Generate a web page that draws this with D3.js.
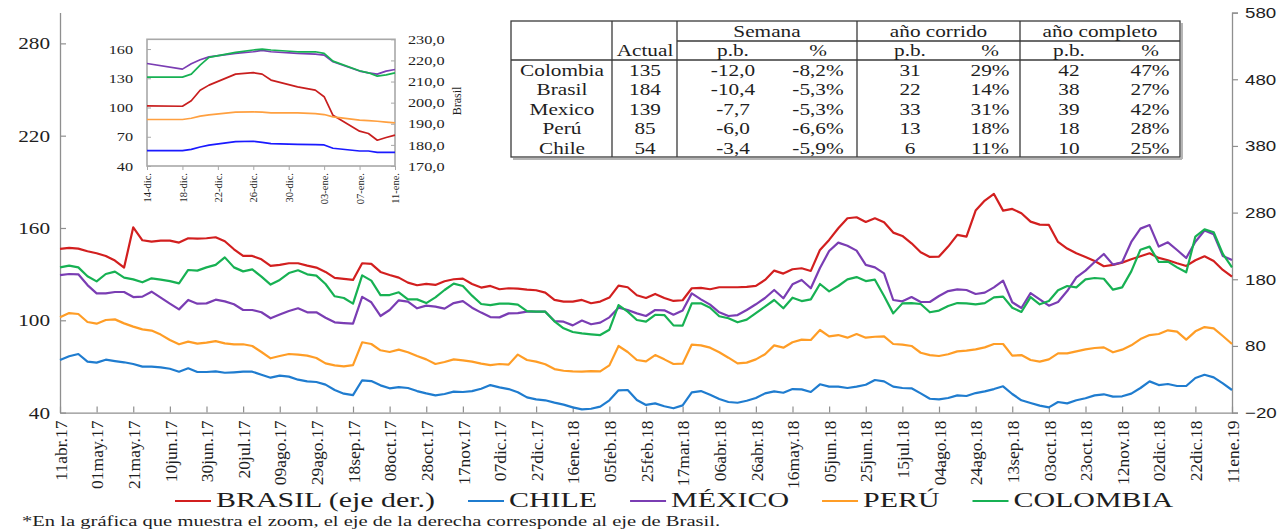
<!DOCTYPE html>
<html>
<head>
<meta charset="utf-8">
<script src="https://cdn.jsdelivr.net/npm/d3@7"></script>
<style>
  body { margin: 0; background: #fff; }
  svg text { font-family: "Liberation Serif", "Times New Roman", serif; fill: #1e1e1e; }
  .sans text { font-family: "Liberation Sans", Arial, sans-serif; }
</style>
</head>
<body>
<script>
// ---- main chart data: one reading every 5 days starting 11abr.17 ----
const startDate = "2017-04-11";
const stepDays = 5;

const brasil = [225.5,227,226,222,219,215,208,197.5,258,238.5,236.5,238,238,235,241.5,241,241.5,243,237,225,
  215,215,210,200,201.5,204,204,200.5,197.5,191,182,180.5,179,
  204,203,191,186.5,182.5,175,171,173,171.5,177,180,181,173,167.5,170,165,166.5,166,164.5,163.5,
  160,149,146.5,146.5,149,144,146.5,152.5,170.5,168,156,152,
  158,152,147.5,148.5,166.5,167,165,168,168,168,168.5,170,179,193,188.5,195,196.5,192.5,224,239,
  256.5,271.5,273,266,271.5,265.5,250,245,234,220.5,213.5,214,
  229,246.5,244,283,298,308,283,285.5,279,266.5,262,261.5,236,226,219,213.5,207.5,199.5,201.5,205,
  210,214.5,219,212,208.5,204,200,208.5,214.5,207.5,194,184];
const chile = [74.2,76.6,78.1,73.1,72.5,74.4,73.5,72.7,71.6,69.9,69.9,69.4,68.5,66.6,68.8,66.4,66.4,66.8,65.9,66.2,
  66.6,66.6,64.6,62.7,64.0,63.4,61.4,60.3,59.9,58.2,54.7,52.3,51.4,
  61.0,60.5,57.7,55.8,56.6,56.0,54.0,52.5,51.2,52.1,53.6,53.4,54.0,55.5,57.9,56.4,55.3,53.2,49.9,48.6,
  48.0,46.5,45.2,43.4,42.1,42.5,43.9,48.0,54.5,54.7,48.2,45.0,
  46.0,44.1,42.8,44.7,53.2,54.0,51.6,48.8,46.9,46.4,47.7,49.5,52.5,53.8,52.9,55.3,55.1,53.4,58.4,56.9,
  56.9,56.0,56.9,58.1,61.2,60.3,56.9,56.0,55.8,52.5,49.0,48.6,
  49.5,51.2,50.8,52.7,53.8,55.3,57.1,52.1,48.0,46.2,44.5,43.4,46.9,46.0,48.0,49.3,51.2,51.9,50.4,50.6,
  52.3,56.0,60.3,57.9,58.6,57.3,57.3,62.5,64.6,62.9,59.0,54.7];
const mexico = [129.4,130.1,129.9,122.9,117.5,117.5,118.4,118.4,115.1,115.4,118.6,114.7,110.8,107.1,113.2,110.8,111.0,113.4,112.3,110.4,
  106.7,106.7,105.2,101.3,103.7,106.0,107.8,105.2,105.2,101.7,98.7,98.2,97.8,
  115.2,111.7,102.8,106.7,113.0,112.1,107.8,109.5,108.9,107.6,111.2,112.5,108.2,105.0,102.1,101.9,104.5,104.7,105.6,105.6,
  105.6,99.5,99.1,96.7,99.8,97.4,98.5,101.9,108.2,106.7,104.5,102.8,
  106.7,106.5,103.6,106.3,117.5,113.6,110.2,105.2,102.8,103.4,106.7,110.4,114.5,119.7,114.3,123.4,126.2,120.8,134.0,145.0,
  150.5,148.5,145.3,136.0,134.4,130.5,113.2,112.3,115.1,111.9,111.9,115.8,
  119.0,120.1,119.7,117.1,118.0,121.4,125.8,111.7,108.0,117.7,113.6,109.5,111.9,119.0,127.9,132.3,137.9,143.1,136.2,137.7,
  150.9,159.6,161.9,147.9,150.7,145.7,140.5,151.1,158.3,155.9,141.8,139.2];
const peru = [101.9,104.7,104.1,98.9,97.8,100.2,100.6,98.0,95.9,94.1,93.3,90.7,87.2,84.4,86.1,84.8,85.5,86.5,85.0,84.4,
  84.4,83.3,79.4,75.3,76.8,78.1,77.7,77.0,75.5,72.0,70.7,70.1,70.9,
  85.7,84.6,80.5,79.4,80.9,79.2,76.8,74.6,71.6,72.9,74.6,74.0,73.1,71.8,70.9,71.6,71.2,77.7,74.2,73.1,
  71.4,68.3,67.2,66.8,66.6,67.0,66.8,70.7,83.3,79.4,74.2,73.3,
  77.4,74.6,71.6,71.8,84.2,83.7,82.2,79.2,75.7,72.0,72.5,74.6,77.9,83.7,82.2,85.7,87.4,87.2,93.7,89.6,
  90.4,88.7,91.1,88.7,89.3,89.6,84.6,84.2,83.3,78.9,77.4,76.8,
  77.9,79.8,80.3,81.1,82.4,84.6,84.6,77.0,77.4,74.2,73.1,74.6,78.5,78.5,79.8,81.1,82.0,82.4,79.2,80.9,
  83.7,87.8,90.4,91.1,93.5,92.6,87.4,92.8,95.6,94.8,89.8,84.6];
const colombia = [134.4,135.5,134.4,128.6,125.3,130.1,131.6,127.7,126.6,124.7,127.3,126.4,125.5,124.0,132.7,132.3,134.4,136.0,140.9,134.4,
  131.8,133.1,128.4,123.2,126.2,130.7,132.5,129.9,129.0,123.6,115.6,114.5,110.8,
  129.2,125.8,116.4,116.4,118.2,113.6,113.6,111.2,114.9,119.7,123.8,122.3,116.0,110.6,109.9,110.8,110.8,110.2,106.0,105.6,
  105.6,99.3,94.8,92.4,91.5,90.9,90.4,93.9,109.9,105.6,100.2,99.1,
  103.6,103.4,96.7,96.5,111.0,111.0,108.2,102.6,101.3,98.7,100.4,104.7,108.9,113.2,107.8,114.7,112.5,113.6,123.6,118.8,
  122.3,126.6,128.1,125.5,126.4,115.8,104.5,111.0,111.2,110.6,105.2,106.3,
  109.3,111.2,111.0,110.4,111.2,114.9,115.4,108.2,105.4,115.1,110.4,112.5,119.5,122.3,121.4,126.6,127.5,127.0,119.9,121.4,
  131.8,145.9,147.9,137.9,138.1,134.4,131.2,154.4,159.1,157.2,143.1,134.4];

const xTickLabels = ["11abr.17","01may.17","21may.17","10jun.17","30jun.17","20jul.17","09ago.17","29ago.17",
  "18sep.17","08oct.17","28oct.17","17nov.17","07dic.17","27dic.17","16ene.18","05feb.18","25feb.18","17mar.18",
  "06abr.18","26abr.18","16may.18","05jun.18","25jun.18","15jul.18","04ago.18","24ago.18","13sep.18","03oct.18",
  "23oct.18","12nov.18","02dic.18","22dic.18","11ene.19"];
const leftTicks = [40, 100, 160, 220, 280];
const rightTicks = [-20, 80, 180, 280, 380, 480, 580];
const legendNames = ["BRASIL (eje der.)", "CHILE", "MÉXICO", "PERÚ", "COLOMBIA"];

// ---- zoom inset (last weeks) ----
const insetDates = ["2018-12-14","2018-12-18","2018-12-19","2018-12-20","2018-12-21","2018-12-24","2018-12-26",
  "2018-12-27","2018-12-28","2018-12-31","2019-01-02","2019-01-03","2019-01-04","2019-01-07","2019-01-08",
  "2019-01-09","2019-01-10","2019-01-11"];
const insetBrasil = [198.5,198.3,200.9,205.9,208.3,213.5,214.2,213.5,210.7,207.5,205.9,202.8,194.0,186.5,185.4,182.2,183.5,184.6];
const insetChile = [55.8,55.8,57.1,59.5,61.5,65.0,65.4,64.3,63.0,62.2,62.0,61.6,58.2,55.4,55.4,54.0,54.0,54.0];
const insetMexico = [145.2,139.4,145.0,149.0,152.0,155.5,157.2,158.6,157.2,155.5,154.8,153.8,147.0,137.4,135.6,134.3,137.4,139.0];
const insetPeru = [87.7,87.7,89.0,91.1,92.5,95.2,95.5,95.2,94.5,94.5,93.8,92.8,90.4,87.0,86.5,85.9,85.0,84.2];
const insetColombia = [131.2,131.2,134.3,143.5,151.4,156.6,159.0,160.0,159.0,157.2,157.2,155.5,147.6,137.7,135.6,132.2,133.5,135.6];
const insetTickDates = ["2018-12-14","2018-12-18","2018-12-22","2018-12-26","2018-12-30","2019-01-03","2019-01-07","2019-01-11"];
const insetTickLabels = ["14-dic.","18-dic.","22-dic.","26-dic.","30-dic.","03-ene.","07-ene.","11-ene."];
const insetLeftTicks = [40, 70, 100, 130, 160];
const insetRightTicks = [170, 180, 190, 200, 210, 220, 230];

// ---- table ----
const tblPais = ["Colombia", "Brasil", "Mexico", "Perú", "Chile"];
const tblActual = ["135", "184", "139", "85", "54"];
const tblSemPb = ["-12,0", "-10,4", "-7,7", "-6,0", "-3,4"];
const tblSemPct = ["-8,2%", "-5,3%", "-5,3%", "-6,6%", "-5,9%"];
const tblCorPb = ["31", "22", "33", "13", "6"];
const tblCorPct = ["29%", "14%", "31%", "18%", "11%"];
const tblComPb = ["42", "38", "39", "18", "10"];
const tblComPct = ["47%", "27%", "42%", "28%", "25%"];

const footnote = "*En la gráfica que muestra el zoom, el eje de la derecha corresponde al eje de Brasil.";

// --------------------------------------------------------------
const W = 1287, H = 529;
const SX = 1.25; // text in the picture is drawn wider than it is tall
const MES = ["ene","feb","mar","abr","may","jun","jul","ago","sep","oct","nov","dic"];
const parseDay = d3.timeParse("%Y-%m-%d");
const parseTick = s => new Date(2000 + +s.slice(-2), MES.indexOf(s.slice(2, 5)), +s.slice(0, 2));

const svg = d3.select("body").append("svg").attr("width", W).attr("height", H);
svg.append("rect").attr("width", W).attr("height", H).attr("fill", "#fff");

function hText(parent, x, y, str, size, anchor, sx) {
  const k = sx || SX;
  return parent.append("text")
    .attr("x", x / k).attr("y", y)
    .attr("transform", `scale(${k},1)`)
    .attr("text-anchor", anchor || "start")
    .style("font-size", size + "px")
    .text(str);
}
function stretchTicks(g) {
  g.selectAll(".tick text").each(function () {
    const t = d3.select(this);
    t.attr("x", (+t.attr("x") || 0) / SX).attr("transform", `scale(${SX},1)`);
  });
}

const axisGray = "#8f8f8f";
const t0 = parseDay(startDate);
const dates = brasil.map((_, i) => d3.timeDay.offset(t0, i * stepDays));
const xTickDates = xTickLabels.map(parseTick);

const x = d3.scaleTime().domain([xTickDates[0], xTickDates[xTickDates.length - 1]]).range([60, 1232]);
const yL = d3.scaleLinear().domain([40, 300]).range([412.6, 12.6]);
const yR = d3.scaleLinear().domain([-20, 580]).range([412.6, 12.6]);

const series = [
  { vals: brasil, color: "#d21f1f", y: yR },
  { vals: chile, color: "#1f7ccf", y: yL },
  { vals: mexico, color: "#7a3db3", y: yL },
  { vals: peru, color: "#ff9d26", y: yL },
  { vals: colombia, color: "#17b153", y: yL }
];

// axes
const gxAxis = svg.append("g").attr("transform", "translate(0,412.6)")
  .call(d3.axisBottom(x).tickValues(xTickDates).tickFormat((d, i) => xTickLabels[i])
    .tickSizeInner(-6).tickSizeOuter(0));
gxAxis.selectAll(".tick text")
  .attr("transform", "rotate(-90)").attr("text-anchor", "end")
  .attr("x", -8).attr("y", 0).attr("dy", "0.35em")
  .style("font-size", "17.5px");

const gyL = svg.append("g").attr("transform", "translate(60,0)")
  .call(d3.axisLeft(yL).tickValues(leftTicks).tickSizeInner(-6).tickSizeOuter(0).tickPadding(10));
gyL.selectAll(".tick text").style("font-size", "17px");
stretchTicks(gyL);

const gyR = svg.append("g").attr("class", "sans").attr("transform", "translate(1232,0)")
  .call(d3.axisRight(yR).tickValues(rightTicks).tickSize(6).tickPadding(7));
gyR.selectAll(".tick text").style("font-size", "15px");
stretchTicks(gyR);

[gxAxis, gyL, gyR].forEach(g => {
  g.select(".domain").attr("stroke", axisGray).attr("stroke-width", 1.3);
  g.selectAll(".tick line").attr("stroke", axisGray).attr("stroke-width", 1.2);
  g.selectAll(".tick text").attr("fill", "#1e1e1e");
});

// lines
series.forEach(s => {
  const line = d3.line().x((d, i) => x(dates[i])).y(d => s.y(d));
  svg.append("path").datum(s.vals)
    .attr("d", line).attr("fill", "none")
    .attr("stroke", s.color).attr("stroke-width", 2.2)
    .attr("stroke-linejoin", "round");
});

// ---- inset ----
const inset = svg.append("g");
const ix = d3.scaleTime().domain([parseDay("2018-12-14"), parseDay("2019-01-11")]).range([147, 395]);
const iyL = d3.scaleLinear().domain([40, 170]).range([166, 39.3]);
const iyR = d3.scaleLinear().domain([170, 230]).range([166, 39.3]);
const iDates = insetDates.map(parseDay);

inset.append("rect").attr("x", 147).attr("y", 39.3).attr("width", 248).attr("height", 126.7)
  .attr("fill", "#fff").attr("stroke", "#a8a8a8").attr("stroke-width", 1.6);

const insetSeries = [
  { vals: insetBrasil, color: "#c81e1e", y: iyR },
  { vals: insetChile, color: "#1a1aff", y: iyL },
  { vals: insetMexico, color: "#7a3db3", y: iyL },
  { vals: insetPeru, color: "#ffa040", y: iyL },
  { vals: insetColombia, color: "#17b153", y: iyL }
];
insetSeries.forEach(s => {
  const line = d3.line().x((d, i) => ix(iDates[i])).y(d => s.y(d));
  inset.append("path").datum(s.vals).attr("d", line).attr("fill", "none")
    .attr("stroke", s.color).attr("stroke-width", 1.7).attr("stroke-linejoin", "round");
});

const igL = inset.append("g").attr("transform", "translate(147,0)")
  .call(d3.axisLeft(iyL).tickValues(insetLeftTicks).tickSizeInner(-4).tickSizeOuter(0).tickPadding(14));
igL.selectAll(".tick text").style("font-size", "13px");
stretchTicks(igL);
const igR = inset.append("g").attr("transform", "translate(395,0)")
  .call(d3.axisRight(iyR).tickValues(insetRightTicks).tickFormat(d => d.toFixed(1).replace(".", ","))
    .tickSizeInner(-4).tickSizeOuter(0).tickPadding(13));
igR.selectAll(".tick text").style("font-size", "13px");
stretchTicks(igR);
const igX = inset.append("g").attr("transform", "translate(0,166)")
  .call(d3.axisBottom(ix).tickValues(insetTickDates.map(parseDay)).tickFormat((d, i) => insetTickLabels[i])
    .tickSizeInner(4).tickSizeOuter(0));
igX.selectAll(".tick text")
  .attr("transform", "rotate(-90)").attr("text-anchor", "end")
  .attr("x", -7).attr("y", 0).attr("dy", "0.35em").style("font-size", "10.5px");
[igL, igR, igX].forEach(g => {
  g.select(".domain").remove();
  g.selectAll(".tick line").attr("stroke", "#a8a8a8");
  g.selectAll(".tick text").attr("fill", "#333");
});
inset.append("text").attr("transform", "translate(461,101) rotate(-90)")
  .attr("text-anchor", "middle").style("font-size", "12px").attr("fill", "#333").text("Brasil");

// ---- table ----
const tbl = svg.append("g");
const tl = 511, tr = 1180, tt = 21, tb = 157;
const vCols = [612, 677, 857, 1020];
const cellX = [562, 645, 733, 818, 910, 990, 1069, 1150];
const rowY = i => 70 + i * 19.5;

tbl.append("line").attr("x1", tr + 2).attr("x2", tr + 2).attr("y1", tt + 2).attr("y2", tb + 2)
  .attr("stroke", "#b5b5b5").attr("stroke-width", 2);
tbl.append("line").attr("x1", tl + 2).attr("x2", tr + 2).attr("y1", tb + 2).attr("y2", tb + 2)
  .attr("stroke", "#b5b5b5").attr("stroke-width", 2);
tbl.append("rect").attr("x", tl).attr("y", tt).attr("width", tr - tl).attr("height", tb - tt)
  .attr("fill", "#fff").attr("stroke", "#3a3a3a").attr("stroke-width", 1.3);
vCols.forEach(cx => tbl.append("line").attr("x1", cx).attr("x2", cx).attr("y1", tt).attr("y2", tb)
  .attr("stroke", "#3a3a3a").attr("stroke-width", 1.3));
tbl.append("line").attr("x1", 677).attr("x2", tr).attr("y1", 41).attr("y2", 41)
  .attr("stroke", "#3a3a3a").attr("stroke-width", 1.3);
tbl.append("line").attr("x1", tl).attr("x2", tr).attr("y1", 60).attr("y2", 60)
  .attr("stroke", "#3a3a3a").attr("stroke-width", 1.3);

const fs = 17;
hText(tbl, 767, 37, "Semana", fs, "middle");
hText(tbl, 938.5, 37, "año corrido", fs, "middle");
hText(tbl, 1100, 37, "año completo", fs, "middle");
hText(tbl, cellX[1], 56, "Actual", fs, "middle");
[2, 4, 6].forEach(c => hText(tbl, cellX[c], 56, "p.b.", fs, "middle"));
[3, 5, 7].forEach(c => hText(tbl, cellX[c], 56, "%", fs, "middle"));

const cols = [tblPais, tblActual, tblSemPb, tblSemPct, tblCorPb, tblCorPct, tblComPb, tblComPct];
tblPais.forEach((_, r) => {
  cols.forEach((col, c) => hText(tbl, cellX[c], rowY(r) + 6, col[r], fs, "middle"));
});

// ---- legend ----
const leg = svg.append("g");
const legSX = 1.36;
let lx = 175;
legendNames.forEach((name, i) => {
  leg.append("line").attr("x1", lx).attr("x2", lx + 36).attr("y1", 501).attr("y2", 501)
    .attr("stroke", series[i].color).attr("stroke-width", 2.2);
  const t = hText(leg, lx + 41, 507, name, 22, "start", legSX);
  lx = lx + 41 + t.node().getComputedTextLength() * legSX + 33;
});

hText(svg, 22, 526, footnote, 14.5, "start", 1.42);
</script>
</body>
</html>
